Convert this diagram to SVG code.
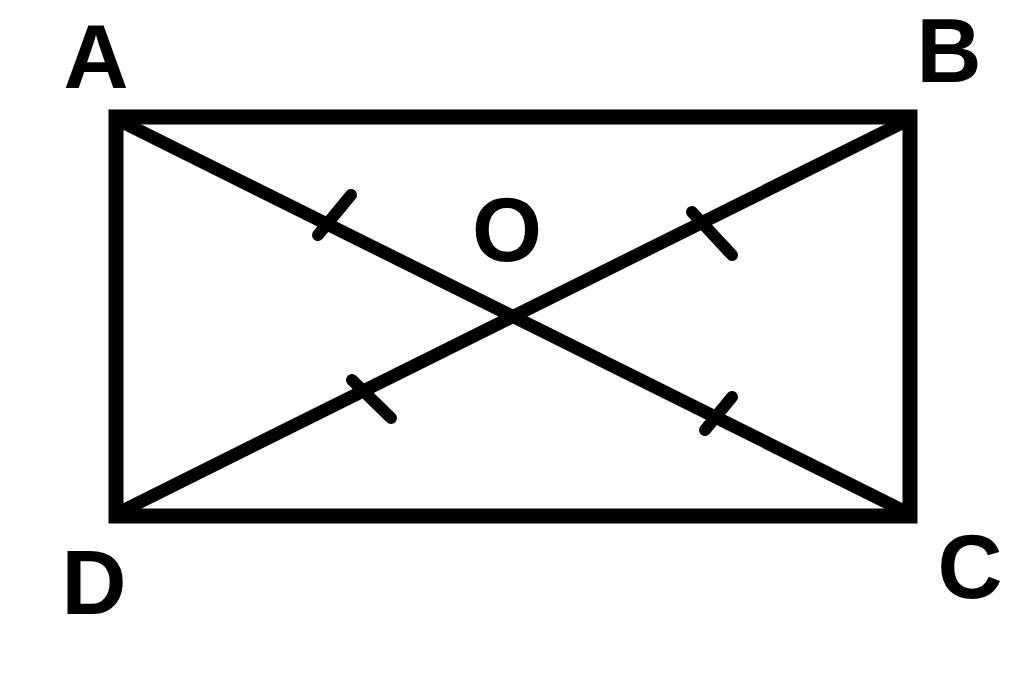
<svg xmlns="http://www.w3.org/2000/svg" width="1024" height="674" viewBox="0 0 1024 674">
<style>
.edge{stroke:#000;stroke-width:15;fill:none;stroke-linejoin:miter}
.diag{stroke:#000;stroke-width:13;fill:none}
.tick{stroke:#000;stroke-width:12;stroke-linecap:round;fill:none}
.lbl{font-family:"Liberation Sans",Arial,sans-serif;font-weight:bold;font-size:90px;fill:#000;text-anchor:middle}
</style>
<rect width="1024" height="674" fill="#fff"/>
<g id="connectors">
<rect class="edge" x="116" y="117" width="794" height="399"/>
<line class="diag" x1="120" y1="121" x2="906" y2="512"/>
<line class="diag" x1="120" y1="512" x2="906" y2="121"/>
<line class="tick" x1="318" y1="235" x2="351" y2="195"/>
<line class="tick" x1="705" y1="430" x2="732" y2="397"/>
<line class="tick" x1="692" y1="212" x2="732" y2="255"/>
<line class="tick" x1="352" y1="380" x2="391" y2="418"/>
</g>
<g id="A"><text class="lbl" x="96" y="88">A</text></g>
<g id="B"><text class="lbl" x="949" y="82">B</text></g>
<g id="O"><text class="lbl" x="507" y="261">O</text></g>
<g id="D"><text class="lbl" x="94" y="614">D</text></g>
<g id="C"><text class="lbl" x="970" y="598">C</text></g>
</svg>
